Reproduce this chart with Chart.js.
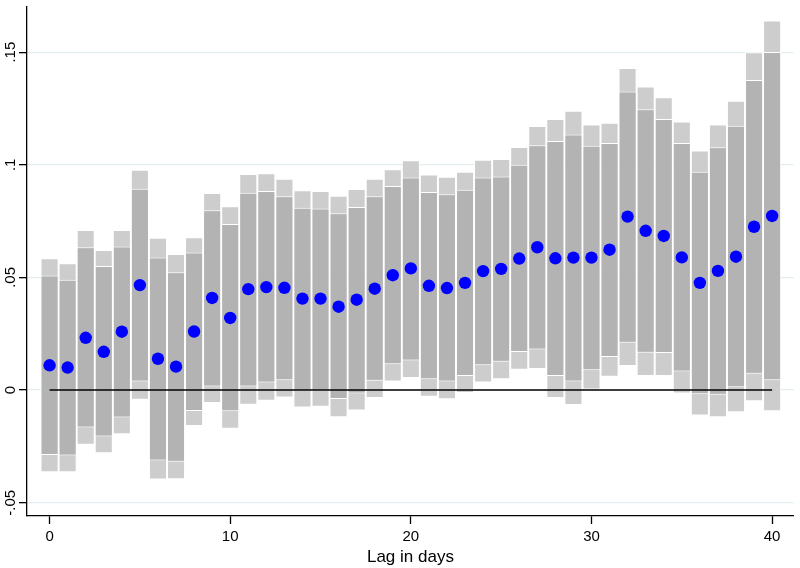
<!DOCTYPE html>
<html>
<head>
<meta charset="utf-8">
<script src="https://cdn.jsdelivr.net/npm/chart.js@4/dist/chart.umd.min.js"></script>
<style>
  html, body { margin: 0; padding: 0; background: #fff; }
  #wrap { width: 800px; height: 568px; }
</style>
</head>
<body>
<div id="wrap"><canvas id="lagChart"></canvas></div>
<script>
const lags = [0,1,2,3,4,5,6,7,8,9,10,11,12,13,14,15,16,17,18,19,20,21,22,23,24,25,26,27,28,29,30,31,32,33,34,35,36,37,38,39,40];
const estimate = [0.011,0.010,0.0232,0.017,0.0259,0.0466,0.0139,0.0104,0.026,0.0409,0.032,0.0448,0.0457,0.0454,0.0406,0.0406,0.037,0.0401,0.045,0.051,0.054,0.0463,0.0453,0.0476,0.0528,0.0538,0.0584,0.0634,0.0585,0.0588,0.0588,0.0623,0.077,0.0707,0.0684,0.0589,0.0476,0.0529,0.0592,0.0725,0.0773];
const innerHi = [0.0509,0.049,0.0634,0.0551,0.0637,0.0894,0.0589,0.0523,0.0611,0.0798,0.0737,0.0876,0.0884,0.086,0.0809,0.0806,0.0785,0.0813,0.086,0.0906,0.0944,0.0879,0.0869,0.0889,0.0944,0.0948,0.1,0.1087,0.1106,0.1135,0.1085,0.1097,0.1325,0.1247,0.1203,0.1097,0.0969,0.1078,0.1173,0.1376,0.1501];
const innerLo = [-0.0288,-0.029,-0.0166,-0.0206,-0.0122,0.0038,-0.0313,-0.0318,-0.0093,0.0016,-0.0094,0.0016,0.0034,0.0044,-0.0003,-0.0003,-0.004,-0.0015,0.0041,0.0115,0.0131,0.0048,0.0038,0.0063,0.011,0.0126,0.0169,0.018,0.0063,0.0038,0.0088,0.0147,0.021,0.0166,0.0165,0.0082,-0.0018,-0.0021,0.0012,0.0073,0.0044];
const outerHi = [0.0585,0.0563,0.071,0.0622,0.071,0.0978,0.0676,0.0604,0.0678,0.0875,0.0816,0.0959,0.0963,0.0938,0.0887,0.0884,0.0863,0.0892,0.0938,0.098,0.102,0.0957,0.0947,0.0969,0.1022,0.1026,0.1079,0.1172,0.1203,0.124,0.1179,0.1187,0.143,0.1348,0.13,0.1192,0.1064,0.1179,0.1284,0.15,0.1641];
const outerLo = [-0.0365,-0.0365,-0.0243,-0.028,-0.0196,-0.0043,-0.0397,-0.0396,-0.0159,-0.0057,-0.0172,-0.0065,-0.0047,-0.0033,-0.0077,-0.0074,-0.0121,-0.0091,-0.0035,0.0038,0.0054,-0.003,-0.0041,-0.0013,0.0034,0.0048,0.009,0.0094,-0.0035,-0.0066,0.0,0.0059,0.0107,0.0063,0.0063,-0.0015,-0.0113,-0.0121,-0.0099,-0.005,-0.0094];
const xTicks = [0, 10, 20, 30, 40];
const yTicks = [-0.05, 0, 0.05, 0.1, 0.15];
const yTickLabels = ['-.05', '0', '.05', '.1', '.15'];

Chart.defaults.font.family = '"Liberation Sans", Arial, sans-serif';
Chart.defaults.color = '#000';

// Stata-style vertical y labels
const yLabels = {
  id: 'yLabels',
  afterDraw(chart) {
    const ctx = chart.ctx, y = chart.scales.y;
    ctx.save();
    ctx.fillStyle = '#000';
    ctx.font = '15px "Liberation Sans", Arial, sans-serif';
    ctx.textAlign = 'center';
    ctx.textBaseline = 'middle';
    yTicks.forEach((v, i) => {
      ctx.save();
      ctx.translate(11, y.getPixelForValue(v));
      ctx.rotate(-Math.PI / 2);
      ctx.fillText(yTickLabels[i], 0, 0);
      ctx.restore();
    });
    ctx.restore();
  }
};

const barCommon = {
  type: 'bar',
  grouped: false,
  barPercentage: 1,
  categoryPercentage: 1,
  borderWidth: 1,
  borderColor: '#ffffff',
  borderSkipped: false,
  inflateAmount: 0,
};

new Chart(document.getElementById('lagChart'), {
  type: 'bar',
  data: {
    datasets: [
      { type: 'scatter', label: 'Estimate', order: 0,
        data: lags.map((l, i) => ({ x: l, y: estimate[i] })),
        backgroundColor: '#0000ff', borderWidth: 0, pointRadius: 6.2, pointHoverRadius: 6.2 },
      { type: 'line', label: 'Zero', order: 1,
        data: [{ x: lags[0], y: 0 }, { x: lags[lags.length - 1], y: 0 }],
        borderColor: '#000', borderWidth: 1.5, pointRadius: 0, fill: false },
      Object.assign({ label: 'Inner CI', order: 2,
        data: lags.map((l, i) => ({ x: l, y: [innerLo[i], innerHi[i]] })),
        backgroundColor: '#b3b3b3' }, barCommon),
      Object.assign({ label: 'Outer CI', order: 3,
        data: lags.map((l, i) => ({ x: l, y: [outerLo[i], outerHi[i]] })),
        backgroundColor: '#cdcdcd' }, barCommon),
    ],
  },
  options: {
    responsive: true,
    maintainAspectRatio: false,
    animation: false,
    layout: { padding: { top: 3, right: 3, left: 0, bottom: 0 } },
    plugins: { legend: { display: false }, tooltip: { enabled: false } },
    scales: {
      x: {
        type: 'linear', min: -1.25, max: 41.2, offset: false,
        afterBuildTicks: s => { s.ticks = xTicks.map(v => ({ value: v })); },
        afterFit: s => { s.height = 52; },
        grid: { offset: false, drawOnChartArea: false, tickColor: '#000', tickLength: 8, tickWidth: 1.3 },
        border: { color: '#000', width: 1.3 },
        ticks: { font: { size: 15 }, padding: 4, maxRotation: 0 },
        title: { display: true, text: 'Lag in days', font: { size: 17 }, padding: { top: 0, bottom: 0 } },
      },
      y: {
        min: -0.0559, max: 0.1704,
        afterBuildTicks: s => { s.ticks = yTicks.map(v => ({ value: v })); },
        afterFit: s => { s.width = 27; },
        grid: { color: '#e4eef0', lineWidth: 1.3, tickColor: '#000', tickLength: 8, tickWidth: 1.3 },
        border: { color: '#000', width: 1.3 },
        ticks: { display: false },
      },
    },
  },
  plugins: [yLabels],
});
</script>
</body>
</html>
